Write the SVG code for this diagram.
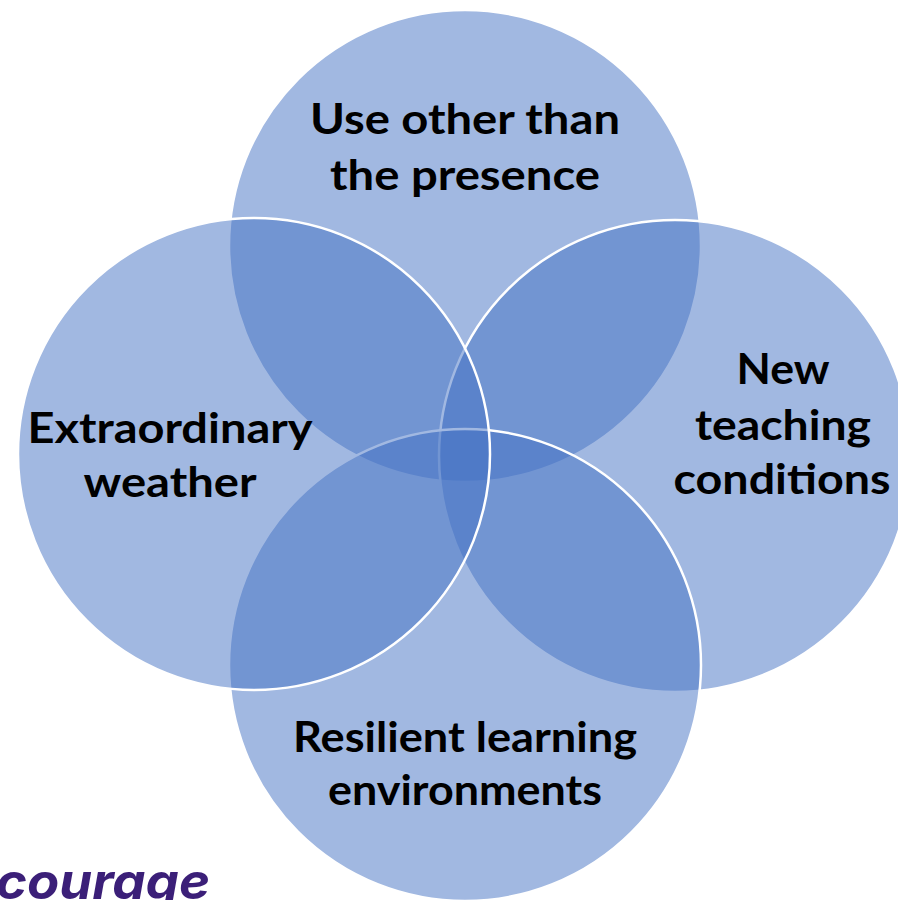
<svg xmlns="http://www.w3.org/2000/svg" width="898" height="900" viewBox="0 0 898 900">
<style>
.c{fill:#4472C4;fill-opacity:0.5;stroke:#fff;stroke-width:2.5}
.t{font-family:Lato,"Open Sans",sans-serif;font-weight:700;font-size:42px;fill:#000;text-anchor:middle}
.logo{font-family:Inter,"Open Sans",sans-serif;font-weight:700;font-style:italic;font-size:50px;fill:#3B1F78}
</style>
<rect width="898" height="900" fill="#fff"/>
<g id="top"><circle class="c" cx="465" cy="246" r="236"/></g>
<g id="right"><circle class="c" cx="675" cy="456" r="236"/></g>
<g id="bottom"><circle class="c" cx="465" cy="665" r="236"/></g>
<g id="left"><circle class="c" cx="254" cy="454" r="236"/></g>
<g id="connectors"></g>
<g id="labels">
<text class="t" x="465" y="134" textLength="310" lengthAdjust="spacingAndGlyphs">Use other than</text>
<text class="t" x="465" y="190" textLength="270" lengthAdjust="spacingAndGlyphs">the presence</text>
<text class="t" x="170" y="443" textLength="285" lengthAdjust="spacingAndGlyphs">Extraordinary</text>
<text class="t" x="170" y="497" textLength="173" lengthAdjust="spacingAndGlyphs">weather</text>
<text class="t" x="783" y="384" textLength="93" lengthAdjust="spacingAndGlyphs">New</text>
<text class="t" x="783" y="440" textLength="176" lengthAdjust="spacingAndGlyphs">teaching</text>
<text class="t" x="782" y="494" textLength="217" lengthAdjust="spacingAndGlyphs">conditions</text>
<text class="t" x="465" y="752" textLength="344" lengthAdjust="spacingAndGlyphs">Resilient learning</text>
<text class="t" x="465" y="805" textLength="274" lengthAdjust="spacingAndGlyphs">environments</text>
</g>
<text class="logo" x="-4" y="899" textLength="214" lengthAdjust="spacingAndGlyphs">courage</text>
</svg>
